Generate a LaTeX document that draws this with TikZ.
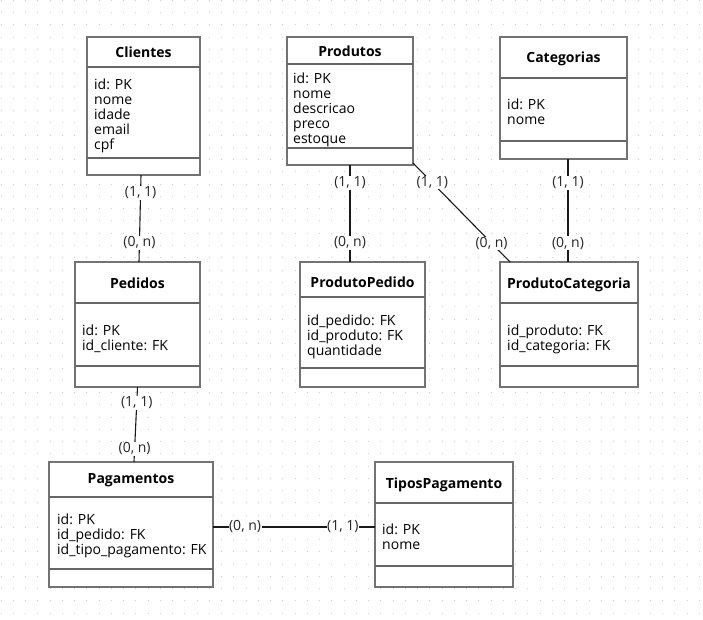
\documentclass[tikz,border=0pt]{standalone}
\usepackage{fontspec}
\setmainfont{Open Sans}
\tikzset{
  box/.style={draw=black!55, line width=1.2pt, inner sep=0pt, outer sep=0pt, fill=white},
  divider/.style={draw=black!60, line width=1.2pt},
  ttl/.style={font=\fontsize{14}{15}\selectfont\bfseries, inner sep=0pt, anchor=center},
  body/.style={font=\fontsize{14}{15}\selectfont, inner sep=0pt, anchor=north west, align=left},
  conn/.style={draw=black!90, line width=1.1pt},
  lbl/.style={fill=white, inner sep=0.5pt, font=\fontsize{14}{15}\selectfont, text=black!85}
}
\newcommand{\entbox}[7]{%
  \node[box, minimum width={#4-#2}, minimum height={#5-#3}] (#1) at ({(#2+#4)/2},{(#3+#5)/2}) {};
  \draw[divider] (#2,#6) -- (#4,#6);
  \draw[divider] (#2,#7) -- (#4,#7);
}
\begin{document}
\begin{tikzpicture}[x=1pt,y=-1pt]
\useasboundingbox (0,0) rectangle (703,620);
\fill[white] (0,0) rectangle (703,620);
% dotted grid
\foreach \j in {0,...,50}{
  \draw[black!20, line width=1pt, dash pattern=on 1pt off 11.25pt] (0.5,{0.5+12.25*\j}) -- (703,{0.5+12.25*\j});
}
% entities
\entbox{cli}{87}{37}{200}{175}{67}{158}
\node[ttl] (cli-t) at (143.5,52.5) {Clientes};
\node[body] (cli-b) at (94,78.5) {id: PK\\nome\\idade\\email\\cpf};

\entbox{pro}{287}{37}{413}{165}{64}{148}
\node[ttl] (pro-t) at (350,51.5) {Produtos};
\node[body] (pro-b) at (293,72.5) {id: PK\\nome\\descricao\\preco\\estoque};

\entbox{cat}{500}{37}{627}{159}{78}{141}
\node[ttl] (cat-t) at (563.5,58.5) {Categorias};
\node[body] (cat-b) at (507,98.5) {id: PK\\nome};

\entbox{ped}{75}{262}{200}{387}{303}{366}
\node[ttl] (ped-t) at (137.5,283.5) {Pedidos};
\node[body] (ped-b) at (82,324.5) {id: PK\\id\_cliente: FK};

\entbox{pp}{300}{262}{425}{387}{297}{368}
\node[ttl] (pp-t) at (362.5,282.5) {ProdutoPedido};
\node[body] (pp-b) at (307,314.5) {id\_pedido: FK\\id\_produto: FK\\quantidade};

\entbox{pc}{500}{262}{638}{387}{303}{366}
\node[ttl] (pc-t) at (569,284.5) {ProdutoCategoria};
\node[body] (pc-b) at (507,324.5) {id\_produto: FK\\id\_categoria: FK};

\entbox{pag}{49}{462}{213}{587}{497}{569}
\node[ttl] (pag-t) at (131,480.5) {Pagamentos};
\node[body] (pag-b) at (57,513.5) {id: PK\\id\_pedido: FK\\id\_tipo\_pagamento: FK};

\entbox{tp}{375}{462}{513}{587}{503}{566}
\node[ttl] (tp-t) at (444,484.5) {TiposPagamento};
\node[body] (tp-b) at (382,523.5) {id: PK\\nome};

% connectors
\draw[conn] ([xshift=-2.5pt]cli.south) -- node[lbl,pos=0.207]{(1, 1)} node[lbl,pos=0.78]{(0, n)} ([xshift=1.5pt]ped.north);
\draw[conn] (pro.south) -- node[lbl,pos=0.186]{(1, 1)} node[lbl,pos=0.804]{(0, n)} (pro.south |- pp.north);
\draw[conn] ([yshift=2pt]pro.south east) -- node[lbl,pos=0.2]{(1, 1)} node[lbl,pos=0.81]{(0, n)} ([xshift=10pt]pc.north west);
\draw[conn] ([xshift=4.5pt]cat.south) -- node[lbl,pos=0.233]{(1, 1)} node[lbl,pos=0.816]{(0, n)} ([xshift=-1pt]pc.north);
\draw[conn] (ped.south) -- node[lbl,pos=0.213]{(1, 1)} node[lbl,pos=0.827]{(0, n)} ([xshift=3pt]pag.north);
\draw[conn] ([yshift=-2.5pt]pag.east) -- node[lbl,pos=0.198]{(0, n)} node[lbl,pos=0.802]{(1, 1)} ([yshift=-2.5pt]tp.west);
\end{tikzpicture}
\end{document}
